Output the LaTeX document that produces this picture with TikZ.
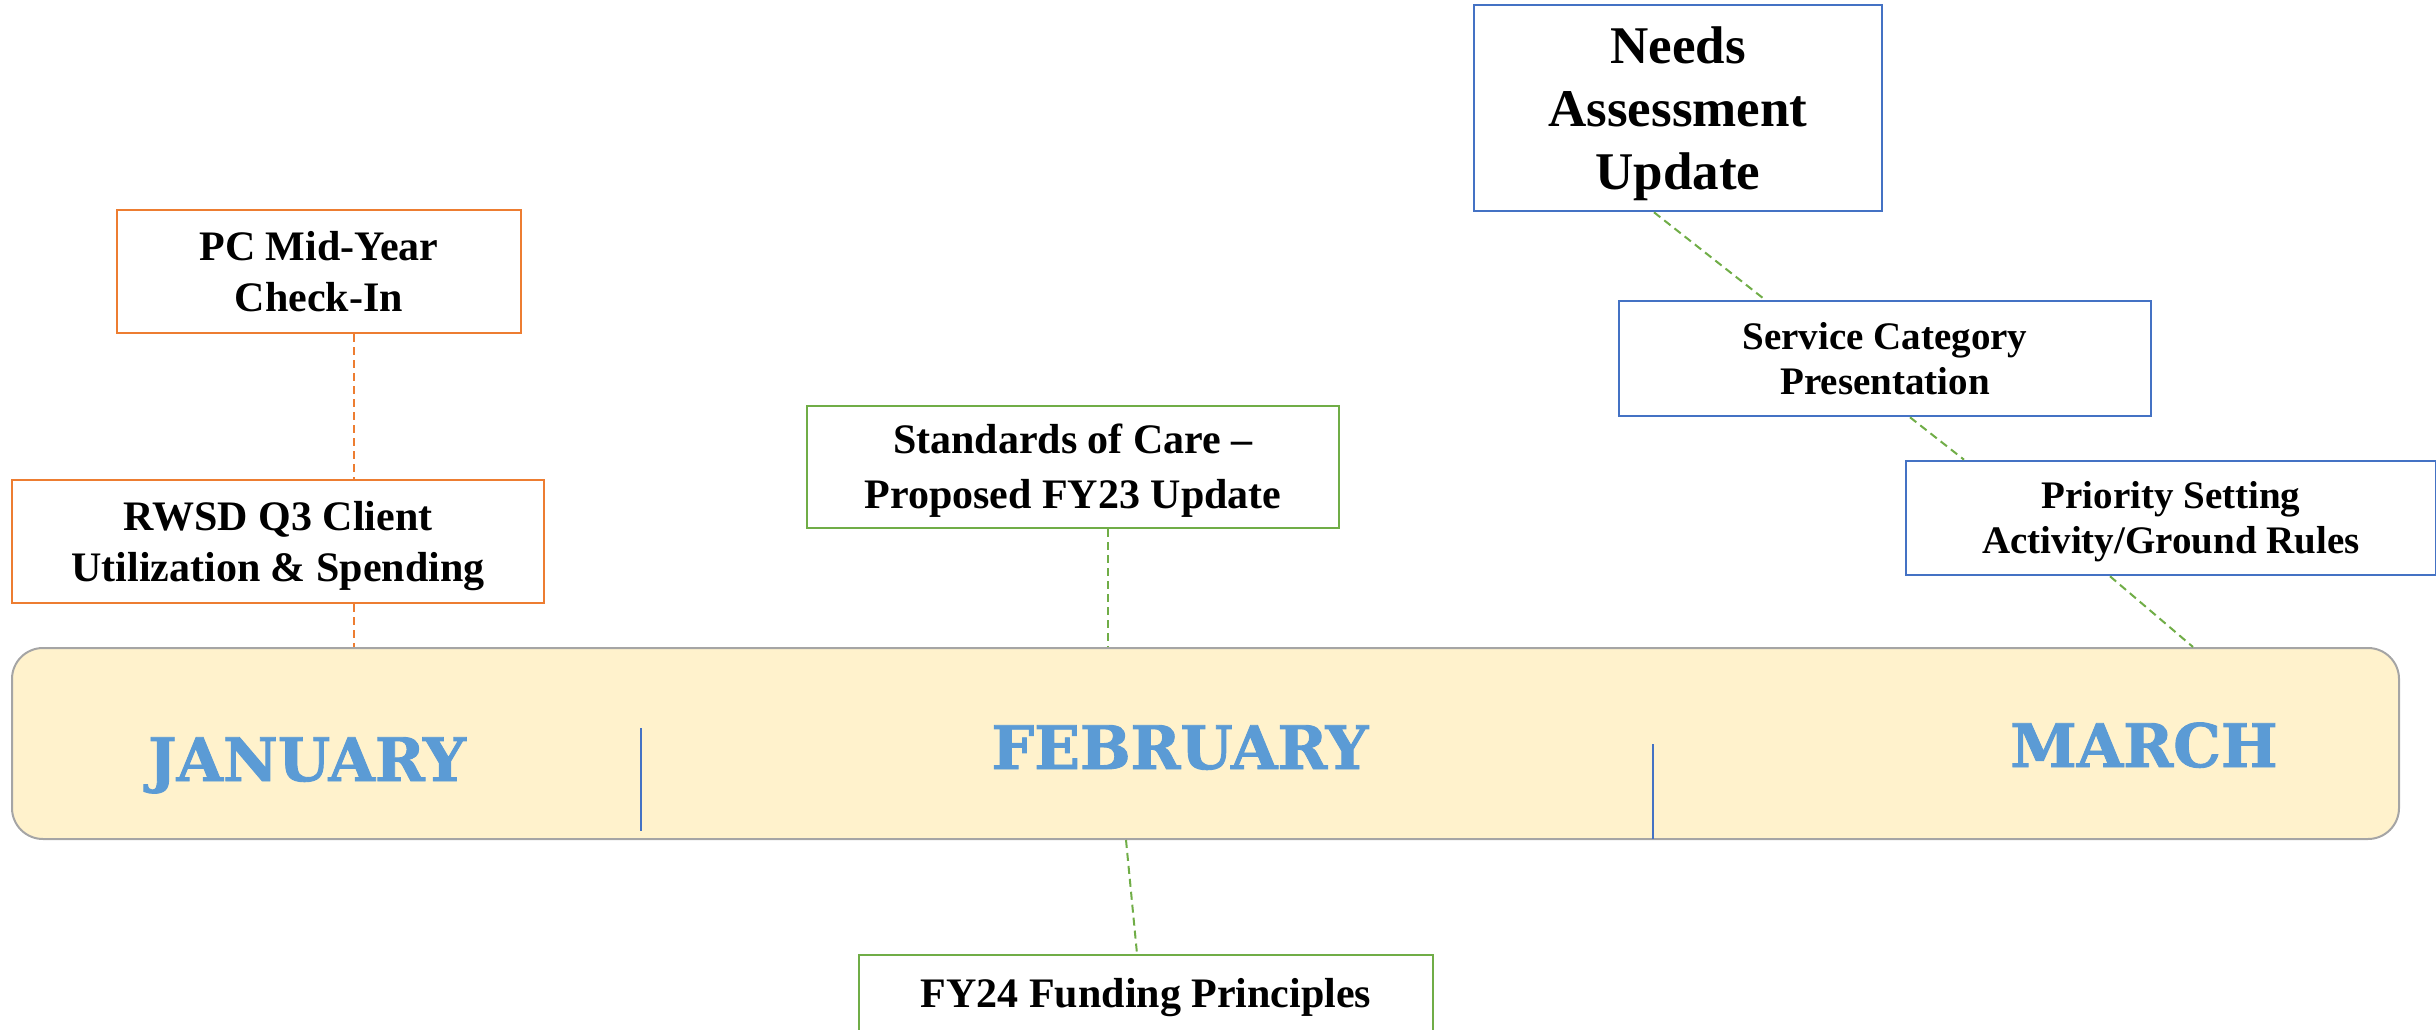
\documentclass[tikz,border=0pt]{standalone}
\usepackage{fontspec}
\setmainfont{Liberation Serif}
\newfontfamily\monthfont[FakeBold=1.5]{DejaVu Serif}
\usepackage{tikz}
\usetikzlibrary{calc}
\definecolor{janColor}{HTML}{ED7D31}
\definecolor{febColor}{HTML}{70AD47}
\definecolor{marColor}{HTML}{4472C4}
\definecolor{monthColor}{HTML}{5B9BD5}
\definecolor{barFill}{HTML}{FFF2CC}
\definecolor{barEdge}{HTML}{A5A5A5}
% full line height above the first and below the last line
\newcommand\upstrut{\rule{0pt}{0.9em}}
\newcommand\downstrut{\rule[-0.22em]{0pt}{0.22em}}

\tikzset{
    event/.style={draw, line width=2.6pt, fill=white, inner sep=0pt, align=center,
        font=\bfseries\fontsize{42}{51}\selectfont},
    link/.style={line width=2pt, dash pattern=on 8pt off 5pt},
    month/.style={anchor=base, text=monthColor, font=\monthfont\bfseries\fontsize{60}{60}\selectfont}
}

\begin{document}
\begin{tikzpicture}[x=1pt, y=-1pt]
    \useasboundingbox (0,0) rectangle (2436,1030);
    % timeline bar
    \node[draw=barEdge, line width=2pt, fill=barFill, rounded corners=31pt,
        minimum width=2387pt, minimum height=191pt] (bar) at (1205.5,743.5) {};
    \draw[marColor, line width=1.4pt] (641,728) -- (641,831);
    \draw[marColor, line width=1.4pt] (1653,744) -- (1653,839);
    \node[month] (jan) at (307,781) {JANUARY};
    \node[month] (feb) at (1180,769) {FEBRUARY};
    \node[month] (mar) at (2144,767) {MARCH};

    % january
    \node[event, draw=janColor, minimum width=404pt, minimum height=123pt] (pc) at (319,271.5)
        {\upstrut PC Mid-Year\\Check-In\downstrut};
    \node[event, draw=janColor, minimum width=532pt, minimum height=123pt] (rwsd) at (278,541.5)
        {\upstrut RWSD Q3 Client\\Utilization \& Spending\downstrut};
    \draw[link, janColor] ([xshift=35pt]pc.south) -- ([xshift=76pt]rwsd.north);
    \draw[link, janColor] ([xshift=76pt]rwsd.south) -- ([xshift=76pt]rwsd.south |- bar.north);

    % february
    \node[event, draw=febColor, minimum width=532pt, minimum height=122pt,
        font=\bfseries\fontsize{42}{55}\selectfont] (soc) at (1073,467)
        {\upstrut Standards of Care --\\Proposed FY23 Update\downstrut};
    \node[event, draw=febColor, minimum width=574pt, minimum height=77pt] (fund) at (1146,993.5)
        {\upstrut FY24 Funding Principles\downstrut};
    \draw[link, febColor] ([xshift=35pt]soc.south) -- ([xshift=35pt]soc.south |- bar.north);
    \draw[link, febColor] ([xshift=-79.5pt]bar.south) -- ([xshift=-9pt]fund.north);

    % march
    \node[event, draw=marColor, minimum width=408pt, minimum height=206pt,
        font=\bfseries\fontsize{53}{63}\selectfont] (needs) at (1678,108)
        {\upstrut Needs\\Assessment\\Update\downstrut};
    \node[event, draw=marColor, minimum width=532pt, minimum height=115pt,
        font=\bfseries\fontsize{39}{45}\selectfont] (svc) at (1885,358.5)
        {\upstrut Service Category\\Presentation\downstrut};
    \node[event, draw=marColor, minimum width=530pt, minimum height=114pt,
        font=\bfseries\fontsize{39}{45}\selectfont] (prio) at (2171,518)
        {\upstrut Priority Setting\\Activity/Ground Rules\downstrut};
    \draw[link, febColor] ([xshift=-24pt]needs.south) -- ([xshift=-120pt]svc.north);
    \draw[link, febColor] ([xshift=25pt]svc.south) -- ([xshift=-207pt]prio.north);
    \draw[link, febColor] ([xshift=-61pt]prio.south) -- ([xshift=987.5pt]bar.north);
\end{tikzpicture}
\end{document}
